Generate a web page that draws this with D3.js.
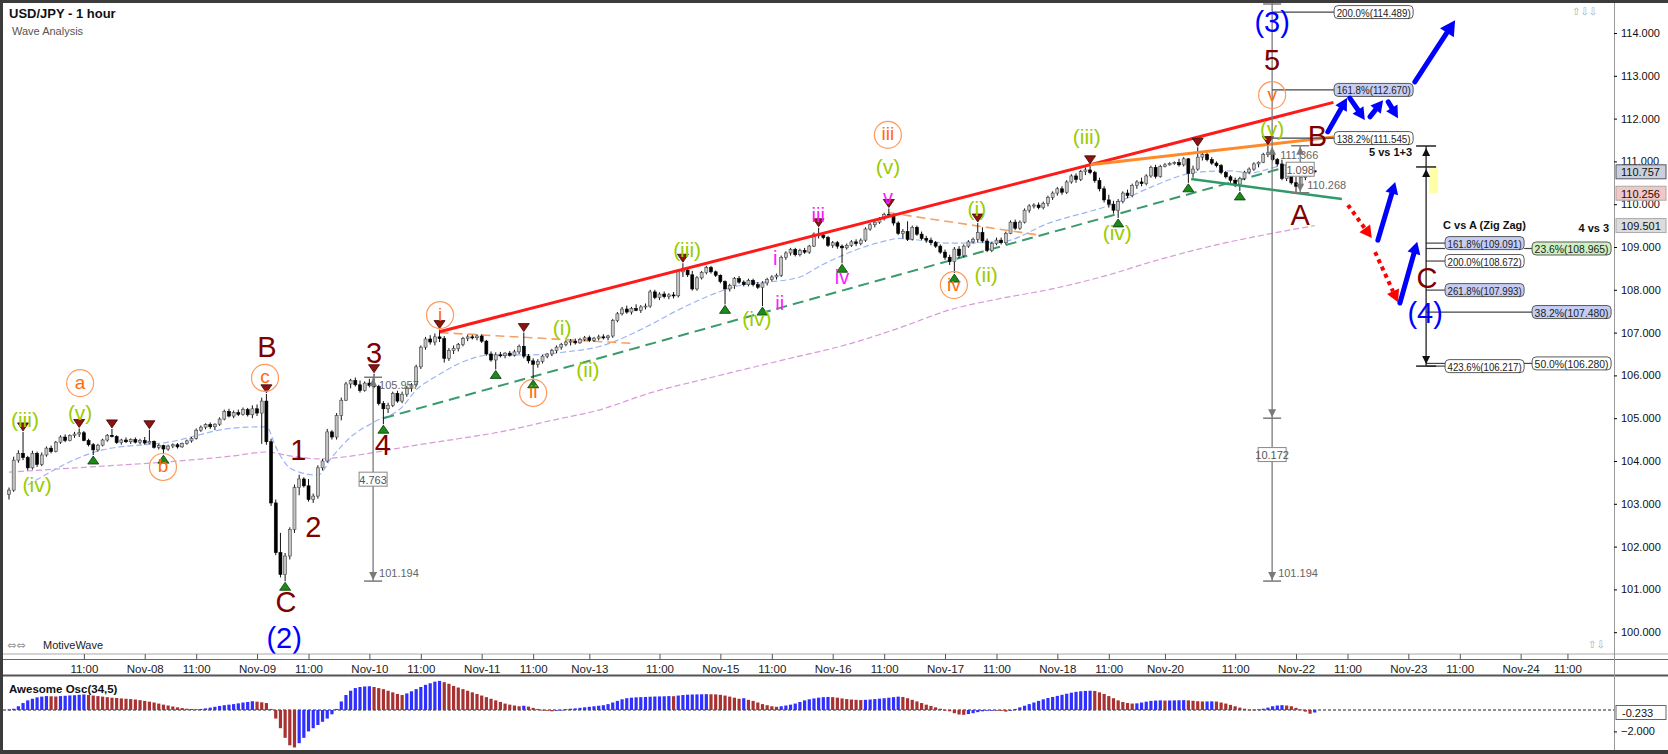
<!DOCTYPE html>
<html>
<head>
<meta charset="utf-8">
<script src="https://cdn.jsdelivr.net/npm/d3@7"></script>
<style>
  html, body { margin: 0; padding: 0; background: #fff; }
  svg { display: block; font-family: "Liberation Sans", Arial, sans-serif; }
</style>
</head>
<body>
<svg id="chart" width="1668" height="754"></svg>
<script>
// hourly USD/JPY candles, one row per bar: [open, high, low, close]
const candles = [
  [103.22,103.38,103.10,103.32],[103.32,104.10,103.28,104.02],[104.02,104.25,103.96,104.18],[104.18,104.68,104.02,104.08],[104.08,104.12,103.78,103.84],
  [103.84,104.24,103.80,104.18],[104.18,104.22,103.86,103.92],[103.92,104.20,103.88,104.14],[104.14,104.34,104.10,104.30],[104.30,104.36,104.18,104.22],
  // 10
  [104.22,104.47,104.20,104.44],[104.44,104.60,104.40,104.56],[104.56,104.62,104.44,104.48],[104.48,104.62,104.46,104.60],[104.60,104.68,104.54,104.63],
  [104.63,104.76,104.56,104.66],[104.66,104.70,104.46,104.48],[104.48,104.52,104.34,104.38],[104.38,104.42,104.14,104.26],[104.26,104.40,104.22,104.37],
  // 20
  [104.37,104.52,104.34,104.49],[104.49,104.63,104.45,104.60],[104.60,104.75,104.55,104.57],[104.57,104.60,104.40,104.43],[104.43,104.52,104.38,104.49],
  [104.49,104.55,104.42,104.45],[104.45,104.53,104.40,104.50],[104.50,104.55,104.41,104.44],[104.44,104.52,104.39,104.48],[104.48,104.56,104.38,104.42],
  // 30
  [104.42,104.73,104.40,104.46],[104.46,104.48,104.29,104.32],[104.32,104.40,104.27,104.36],[104.36,104.38,104.16,104.28],[104.28,104.38,104.24,104.35],
  [104.35,104.41,104.30,104.38],[104.38,104.42,104.29,104.33],[104.33,104.43,104.31,104.41],[104.41,104.50,104.38,104.47],[104.47,104.56,104.43,104.53],
  // 40
  [104.53,104.76,104.50,104.72],[104.72,104.83,104.68,104.79],[104.79,104.88,104.74,104.85],[104.85,104.90,104.75,104.80],[104.80,104.88,104.72,104.86],
  [104.86,105.02,104.82,104.98],[104.98,105.20,104.95,105.16],[105.16,105.22,105.02,105.05],[105.05,105.18,105.00,105.13],[105.13,105.20,105.05,105.09],
  // 50
  [105.09,105.25,105.06,105.20],[105.20,105.24,105.04,105.08],[105.08,105.30,105.00,105.22],[105.22,105.32,105.05,105.12],[105.12,105.48,104.40,105.40],
  [105.40,105.57,104.38,104.45],[104.45,104.52,102.95,103.02],[103.02,103.10,101.80,101.86],[101.86,102.32,101.28,101.35],[101.35,101.85,101.19,101.78],
  // 60
  [101.78,102.45,101.70,102.40],[102.40,103.45,102.32,103.38],[103.38,103.68,103.20,103.58],[103.58,103.62,103.38,103.42],[103.42,103.58,103.05,103.10],
  [103.10,103.24,103.02,103.18],[103.18,103.90,103.12,103.84],[103.84,104.05,103.78,104.00],[104.00,104.75,103.96,104.68],[104.68,104.72,104.50,104.56],
  // 70
  [104.56,105.12,104.50,105.06],[105.06,105.48,104.95,105.42],[105.42,105.85,105.40,105.80],[105.80,105.92,105.70,105.88],[105.88,105.95,105.74,105.78],
  [105.78,105.88,105.60,105.65],[105.65,105.86,105.62,105.82],[105.82,105.92,105.72,105.76],[105.76,106.04,105.70,105.74],[105.74,105.78,105.30,105.34],
  // 80
  [105.34,105.40,104.86,105.22],[105.22,105.36,105.12,105.30],[105.30,105.62,105.26,105.58],[105.58,105.64,105.36,105.40],[105.40,105.62,105.35,105.56],
  [105.56,105.75,105.50,105.70],[105.70,105.82,105.62,105.78],[105.78,106.25,105.74,106.20],[106.20,106.70,106.15,106.66],[106.66,106.90,106.60,106.85],
  // 90
  [106.85,106.94,106.72,106.78],[106.78,106.98,106.70,106.90],[106.90,107.07,106.78,106.86],[106.86,106.92,106.30,106.40],[106.40,106.64,106.34,106.58],
  [106.58,106.70,106.50,106.63],[106.63,106.76,106.56,106.72],[106.72,106.90,106.68,106.86],[106.86,106.95,106.80,106.90],[106.90,106.95,106.84,106.88],
  // 100
  [106.88,106.96,106.82,106.92],[106.92,106.96,106.76,106.80],[106.80,106.83,106.46,106.50],[106.50,106.56,106.32,106.36],[106.36,106.54,106.14,106.48],
  [106.48,106.55,106.42,106.46],[106.46,106.54,106.40,106.52],[106.52,106.57,106.44,106.47],[106.47,106.60,106.44,106.55],[106.55,106.72,106.50,106.68],
  // 110
  [106.68,107.00,106.40,106.45],[106.45,106.50,106.28,106.34],[106.34,106.40,105.92,106.26],[106.26,106.38,106.18,106.33],[106.33,106.48,106.28,106.45],
  [106.45,106.52,106.40,106.50],[106.50,106.62,106.45,106.58],[106.58,106.70,106.52,106.66],[106.66,106.76,106.60,106.72],[106.72,106.82,106.68,106.78],
  // 120
  [106.78,106.85,106.70,106.80],[106.80,106.86,106.72,106.76],[106.76,106.88,106.74,106.84],[106.84,106.92,106.80,106.88],[106.88,106.93,106.78,106.82],
  [106.82,106.90,106.78,106.87],[106.87,106.95,106.82,106.90],[106.90,106.96,106.84,106.88],[106.88,106.95,106.82,106.92],[106.92,107.32,106.88,107.28],
  // 130
  [107.28,107.48,107.24,107.44],[107.44,107.60,107.40,107.55],[107.55,107.63,107.44,107.48],[107.48,107.60,107.42,107.56],[107.56,107.66,107.50,107.52],
  [107.52,107.64,107.46,107.60],[107.60,107.68,107.54,107.62],[107.62,108.00,107.58,107.95],[107.95,108.00,107.78,107.82],[107.82,107.94,107.76,107.90],
  // 140
  [107.90,107.96,107.80,107.84],[107.84,107.92,107.78,107.88],[107.88,107.95,107.80,107.86],[107.86,108.46,107.82,108.42],[108.42,108.62,108.30,108.46],
  [108.46,108.52,108.30,108.35],[108.35,108.44,107.98,108.02],[108.02,108.32,107.98,108.28],[108.28,108.44,108.24,108.40],[108.40,108.56,108.36,108.52],
  // 150
  [108.52,108.56,108.38,108.42],[108.42,108.45,108.30,108.34],[108.34,108.36,108.15,108.19],[108.19,108.22,107.66,108.02],[108.02,108.14,107.96,108.10],
  [108.10,108.30,108.02,108.26],[108.26,108.32,108.14,108.18],[108.18,108.22,108.08,108.12],[108.12,108.26,108.08,108.22],[108.22,108.26,108.08,108.12],
  // 160
  [108.12,108.18,108.02,108.06],[108.06,108.20,107.62,108.16],[108.16,108.28,108.10,108.24],[108.24,108.34,108.20,108.30],[108.30,108.38,108.24,108.34],
  [108.34,108.80,108.30,108.76],[108.76,108.90,108.70,108.86],[108.86,108.98,108.80,108.94],[108.94,108.98,108.78,108.82],[108.82,108.96,108.78,108.92],
  // 170
  [108.92,108.98,108.84,108.88],[108.88,109.05,108.84,109.02],[109.02,109.34,109.00,109.30],[109.30,109.45,109.20,109.28],[109.28,109.32,109.18,109.22],
  [109.22,109.26,109.00,109.04],[109.04,109.14,108.98,109.10],[109.10,109.14,108.96,109.02],[109.02,109.06,108.62,108.98],[108.98,109.08,108.94,109.04],
  // 180
  [109.04,109.16,109.00,109.12],[109.12,109.18,109.02,109.08],[109.08,109.20,109.04,109.16],[109.16,109.46,109.12,109.42],[109.42,109.56,109.38,109.52],
  [109.52,109.62,109.46,109.58],[109.58,109.70,109.54,109.66],[109.66,109.80,109.62,109.76],[109.76,109.90,109.70,109.74],[109.74,109.78,109.50,109.56],
  // 190
  [109.56,109.60,109.28,109.32],[109.32,109.42,109.20,109.36],[109.36,109.60,109.14,109.18],[109.18,109.50,109.15,109.46],[109.46,109.50,109.26,109.30],
  [109.30,109.36,109.16,109.20],[109.20,109.26,109.10,109.16],[109.16,109.22,109.04,109.10],[109.10,109.14,108.98,109.02],[109.02,109.06,108.84,108.88],
  // 200
  [108.88,108.94,108.70,108.76],[108.76,108.82,108.58,108.66],[108.66,109.00,108.39,108.95],[108.95,109.02,108.74,108.80],[108.80,109.06,108.76,109.02],
  [109.02,109.16,108.98,109.12],[109.12,109.22,109.08,109.18],[109.18,109.56,109.10,109.34],[109.34,109.46,109.10,109.14],[109.14,109.20,108.88,108.92],
  // 210
  [108.92,109.12,108.88,109.08],[109.08,109.22,109.04,109.16],[109.16,109.22,109.06,109.10],[109.10,109.36,109.06,109.32],[109.32,109.62,109.30,109.58],
  [109.58,109.64,109.40,109.44],[109.44,109.62,109.40,109.58],[109.58,109.90,109.55,109.86],[109.86,110.00,109.80,109.96],[109.96,110.02,109.90,109.98],
  // 220
  [109.98,110.04,109.88,109.92],[109.92,110.06,109.88,110.02],[110.02,110.20,109.95,110.16],[110.16,110.30,110.10,110.26],[110.26,110.40,110.20,110.36],
  [110.36,110.42,110.22,110.28],[110.28,110.56,110.24,110.52],[110.52,110.70,110.48,110.66],[110.66,110.72,110.50,110.58],[110.58,110.80,110.54,110.76],
  // 230
  [110.76,110.86,110.68,110.80],[110.80,110.92,110.70,110.74],[110.74,110.78,110.50,110.55],[110.55,110.62,110.30,110.36],[110.36,110.42,110.04,110.10],
  [110.10,110.22,109.92,110.00],[110.00,110.08,109.78,109.86],[109.86,110.12,109.68,110.06],[110.06,110.30,110.02,110.26],[110.26,110.34,110.14,110.20],
  // 240
  [110.20,110.48,110.16,110.44],[110.44,110.56,110.36,110.52],[110.52,110.62,110.42,110.48],[110.48,110.70,110.44,110.66],[110.66,110.90,110.62,110.86],
  [110.86,110.92,110.60,110.65],[110.65,110.92,110.62,110.88],[110.88,110.96,110.86,110.92],[110.92,110.98,110.90,110.95],[110.95,111.00,110.92,110.97],
  // 250
  [110.97,111.06,110.88,110.92],[110.92,111.10,110.88,111.06],[111.06,111.08,110.50,110.72],[110.72,110.90,110.62,110.82],[110.82,111.33,110.78,111.10],
  [111.10,111.20,111.02,111.16],[111.16,111.20,111.00,111.04],[111.04,111.10,110.92,110.96],[110.96,111.00,110.86,110.90],[110.90,110.94,110.70,110.74],
  // 260
  [110.74,110.78,110.60,110.64],[110.64,110.68,110.50,110.56],[110.56,110.62,110.40,110.47],[110.47,110.64,110.31,110.60],[110.60,110.78,110.56,110.75],
  [110.75,110.86,110.70,110.82],[110.82,110.98,110.78,110.94],[110.94,111.00,110.86,110.98],[110.98,111.20,110.96,111.16],[111.16,111.37,111.10,111.20],
  // 270
  [111.20,111.26,111.00,111.04],[111.04,111.08,110.88,110.94],[110.94,111.04,110.56,110.60],[110.60,110.98,110.54,110.92],[110.92,110.94,110.46,110.50],
  [110.50,110.64,110.27,110.42],[110.42,110.66,110.38,110.62],[110.62,110.74,110.56,110.70],[110.70,110.82,110.64,110.78],[110.78,110.80,110.72,110.757]
];

// Awesome Oscillator (34,5), one value per bar
const awesomeOsc = [
  0.05,0.12,0.35,0.65,0.9,1.05,1.18,1.25,1.3,1.28,
  1.26,1.3,1.33,1.36,1.38,1.42,1.45,1.4,1.35,1.3,
  1.25,1.2,1.15,1.12,1.08,1.05,1.02,0.98,0.92,0.85,
  0.78,0.7,0.6,0.5,0.42,0.33,0.25,0.18,0.12,0.1,
  0.08,0.1,0.15,0.22,0.3,0.38,0.45,0.5,0.55,0.62,
  0.7,0.75,0.82,0.78,0.72,0.65,0.1,-0.8,-1.7,-2.6,
  -3.3,-3.5,-3.1,-2.6,-2.0,-1.7,-1.4,-1.1,-0.8,-0.4,
  0.1,0.8,1.4,1.8,2.05,2.15,2.2,2.22,2.15,2.05,
  1.95,1.8,1.65,1.5,1.4,1.55,1.75,1.95,2.15,2.35,
  2.5,2.65,2.72,2.6,2.45,2.25,2.1,1.95,1.8,1.65,
  1.5,1.35,1.2,1.05,0.9,0.75,0.6,0.5,0.42,0.35,
  0.4,0.32,0.2,0.1,0.02,-0.05,-0.12,-0.05,0.02,0.08,
  0.12,0.15,0.2,0.25,0.3,0.35,0.4,0.45,0.55,0.7,
  0.85,1.0,1.1,1.15,1.18,1.2,1.22,1.24,1.26,1.27,
  1.28,1.3,1.29,1.35,1.4,1.43,1.45,1.46,1.47,1.48,
  1.47,1.46,1.42,1.35,1.25,1.15,1.05,1.1,0.95,0.85,
  0.7,0.55,0.45,0.35,0.3,0.35,0.42,0.5,0.6,0.75,
  0.9,1.0,1.08,1.15,1.2,1.22,1.2,1.15,1.08,1.02,
  0.98,0.95,0.93,0.95,0.98,1.02,1.06,1.1,1.15,1.2,
  1.25,1.22,1.1,0.95,0.8,0.65,0.5,0.38,0.25,0.12,
  0.02,-0.12,-0.3,-0.42,-0.45,-0.38,-0.3,-0.2,-0.12,-0.05,
  0.0,-0.02,-0.08,-0.15,-0.05,0.1,0.25,0.4,0.55,0.7,
  0.85,1.0,1.12,1.22,1.32,1.42,1.52,1.62,1.7,1.75,
  1.78,1.8,1.78,1.65,1.5,1.3,1.1,0.9,0.75,0.65,
  0.6,0.62,0.7,0.78,0.85,0.88,0.9,0.88,0.89,0.9,
  0.91,0.92,0.9,0.86,0.82,0.8,0.8,0.81,0.79,0.7,
  0.6,0.48,0.35,0.22,0.12,0.05,0.04,0.06,0.12,0.22,
  0.35,0.42,0.45,0.42,0.35,0.2,0.05,-0.15,-0.35,-0.233
];

// moving averages: [bar, price]
const fastMA = [[4,103.44],[20,104.26],[34,104.44],[48,104.77],[55,104.8],[57,104.33],[59,103.95],[62,103.74],[66,103.67],
  [69,104.09],[73,104.56],[78,104.91],[84,105.26],[87,105.66],[91,105.96],[98,106.36],[103,106.48],[112,106.48],[119,106.55],
  [126,106.67],[137,107.18],[143,107.53],[155,108.07],[169,108.3],[173,108.54],[188,109.16],[190,109.2],[201,109.09],
  [212,109.12],[222,109.55],[237,110.05],[244,110.4],[254,110.75],[261,110.78],[265,110.73],[272,110.9],[279,110.95]];
const slowMA = [[0,103.74],[20,103.88],[34,103.98],[48,104.12],[55,104.21],[60,104.12],[66,104.05],[72,104.1],[78,104.2],
  [87,104.37],[96,104.52],[105,104.68],[116,104.95],[126,105.19],[137,105.59],[150,105.95],[165,106.35],[180,106.75],
  [190,107.1],[201,107.53],[212,107.8],[222,108.0],[235,108.35],[244,108.65],[258,109.05],[269,109.3],[279,109.5]];

// swing markers (bar indices)
const swingHighs = [3, 15, 22, 30, 55, 78, 92, 110, 144, 173, 188, 207, 231, 254, 269];
const swingLows = [18, 33, 59, 80, 104, 112, 153, 161, 178, 202, 237, 252, 263];

// wave labels by degree: [bar, price, text]
const intermediateWaves = [[58.8, 99.86, "(2)"], [269.9, 114.26, "(3)"], [302.6, 107.46, "(4)"]];
const minorWaves = [[55.1, 106.66, "B"], [59.2, 100.71, "C"], [61.8, 104.26, "1"], [65, 102.46, "2"], [78, 106.52, "3"],
  [79.9, 104.37, "4"], [269.9, 113.37, "5"], [279.6, 111.6, "B"], [275.9, 109.75, "A"], [303, 108.28, "C"]];
const minuteWaves = [[15.2, 105.82, "a"], [32.9, 103.86, "b"], [54.7, 105.94, "c"], [92.1, 107.41, "i"], [112, 105.59, "ii"],
  [187.8, 111.62, "iii"], [201.9, 108.11, "iv"], [269.9, 112.55, "v"]];
const minuetteWaves = [[3.4, 104.96, "(iii)"], [6, 103.44, "(iv)"], [15.2, 105.14, "(v)"], [118.2, 107.11, "(i)"],
  [123.7, 106.13, "(ii)"], [144.9, 108.93, "(iii)"], [159.8, 107.34, "(iv)"], [187.8, 110.87, "(v)"], [206.8, 109.91, "(i)"],
  [208.8, 108.35, "(ii)"], [230.3, 111.59, "(iii)"], [236.8, 109.35, "(iv)"], [269.9, 111.78, "(v)"]];
const subminuetteWaves = [[163.7, 108.74, "i"], [164.7, 107.69, "ii"], [172.9, 109.75, "iii"], [178, 108.3, "iv"], [187.8, 110.17, "v"]];

// trend lines: [[bar, price], [bar, price]]
const channelTop = [[92, 107.02], [283, 112.38]];
const wedgeTop = [[231, 110.92], [283, 111.57]];
const supportLine = [[252.6, 110.59], [284.8, 110.12]];
const channelBase = [[80, 105.0], [272, 110.84]];
const waveTwoLine = [[92, 107.0], [133, 106.75]];
const waveFourLine = [[188, 109.8], [220, 109.28]];

// projected path
const bullishPath = [
  [[281.8, 111.69], [285.9, 112.48]], [[286.5, 112.48], [289.7, 111.97]], [[290.8, 112.04], [293.6, 112.43]],
  [[294.7, 112.39], [296.8, 112.01]], [[292.5, 109.16], [296.2, 110.52]], [[297.2, 107.69], [300.9, 109.12]]
];
const bigBullArrow = [[300.4, 112.86], [309, 114.3]];
const bearishPath = [[[286.1, 109.98], [291.2, 109.21]], [[291.9, 108.88], [296.8, 107.71]]];

// measurements
const measureWave3 = { bar: 77.8, top: 105.957, bottom: 101.194 };
const measureWave5 = { bar: 269.9, top: 111.366, bottom: 101.194, mid: 105.0, box: 104.15 };
const measureLast = { bar: 275.9, top: 111.366, bottom: 110.268 };
const measure5vs13 = { bar: 302.8, top: 111.36, second: 110.87, bottom: 106.217, zone: [110.87, 110.26] };

// fibonacci levels: [ratio, price]
const fibWave5 = [[200.0, 114.489], [161.8, 112.670], [138.2, 111.545]];
const fibZigZag = [[161.8, 109.091], [200.0, 108.672], [261.8, 107.993], [423.6, 106.217]];
const fibWave4 = [[23.6, 108.965], [38.2, 107.480], [50.0, 106.280]];

// axes
const timeTickBars = [16, 29, 40, 53, 64, 77, 88, 101, 112, 124, 139, 152, 163, 176, 187, 200, 211, 224, 235, 247, 262, 275, 286, 299, 310, 323, 333];
const timeTickLabels = ["11:00", "Nov-08", "11:00", "Nov-09", "11:00", "Nov-10", "11:00", "Nov-11", "11:00", "Nov-13", "11:00", "Nov-15", "11:00",
  "Nov-16", "11:00", "Nov-17", "11:00", "Nov-18", "11:00", "Nov-20", "11:00", "Nov-22", "11:00", "Nov-23", "11:00", "Nov-24", "11:00"];
const priceTicks = [100, 101, 102, 103, 104, 105, 106, 107, 108, 109, 110, 111, 112, 113, 114];
const priceTags = [[110.757, "last"], [110.256, "fast"], [109.501, "slow"]];
const oscTicks = [-2];

(() => {
  const W = 1668, H = 754;
  const plotRight = 1614;
  const svg = d3.select("#chart");

  const x = d3.scaleLinear().domain([0, 100]).range([9, 477]);
  const y = d3.scaleLinear().domain([114, 100]).range([33, 632.2]);
  const yo = d3.scaleLinear().domain([0, -2]).range([710, 731.4]);

  svg.append("rect").attr("width", W).attr("height", H).attr("fill", "#fff");

  const defs = svg.append("defs");
  defs.append("clipPath").attr("id", "pclip").append("rect")
    .attr("x", 3).attr("y", 3).attr("width", plotRight - 3).attr("height", 651);
  defs.append("clipPath").attr("id", "oclip").append("rect")
    .attr("x", 3).attr("y", 677).attr("width", plotRight - 3).attr("height", 73);

  const main = svg.append("g").attr("clip-path", "url(#pclip)");

  // moving averages
  const maLine = d3.line().x(d => x(d[0])).y(d => y(d[1])).curve(d3.curveMonotoneX);
  main.append("path").attr("d", maLine(slowMA)).attr("fill", "none")
    .attr("stroke", "#d89ad8").attr("stroke-width", 1.2).attr("stroke-dasharray", "6,3");
  main.append("path").attr("d", maLine(fastMA)).attr("fill", "none")
    .attr("stroke", "#9cb6f2").attr("stroke-width", 1.2).attr("stroke-dasharray", "6,3");

  // trend lines
  const seg = (g, pts, color, w, dash) => g.append("line")
    .attr("x1", x(pts[0][0])).attr("y1", y(pts[0][1]))
    .attr("x2", x(pts[1][0])).attr("y2", y(pts[1][1]))
    .attr("stroke", color).attr("stroke-width", w)
    .attr("stroke-dasharray", dash || null);
  seg(main, channelBase, "#3a9a6c", 2, "11,6");
  seg(main, waveTwoLine, "#f5a064", 1.6, "9,5");
  seg(main, waveFourLine, "#f5a064", 1.6, "9,5");

  // candles
  const cw = 3;
  main.append("g").selectAll("line").data(candles).join("line")
    .attr("x1", (d, i) => x(i)).attr("x2", (d, i) => x(i))
    .attr("y1", d => y(d[1])).attr("y2", d => y(d[2]))
    .attr("stroke", "#111").attr("stroke-width", 1);
  main.append("g").selectAll("rect").data(candles).join("rect")
    .attr("x", (d, i) => x(i) - cw / 2)
    .attr("y", d => y(Math.max(d[0], d[3])))
    .attr("width", cw)
    .attr("height", d => Math.max(1, Math.abs(y(d[0]) - y(d[3]))))
    .attr("fill", d => d[3] >= d[0] ? "#c4c4c4" : "#000")
    .attr("stroke", d => d[3] >= d[0] ? "#444" : "#000")
    .attr("stroke-width", 0.6);

  seg(main, channelTop, "#ff1a1a", 3);
  seg(main, wedgeTop, "#ff8a2a", 3);
  seg(main, supportLine, "#2f9a68", 2.5);

  // swing markers
  main.append("g").selectAll("path").data(swingHighs).join("path")
    .attr("d", i => { const cx = x(i), cy = y(candles[i][1]) - 1; return `M${cx},${cy} l-5.5,-8 h11 z`; })
    .attr("fill", "#8e1212").attr("stroke", "#3a0606").attr("stroke-width", 0.8);
  main.append("g").selectAll("path").data(swingLows).join("path")
    .attr("d", i => { const cx = x(i), cy = y(candles[i][2]) + 1; return `M${cx},${cy} l-5.5,8 h11 z`; })
    .attr("fill", "#1b8a1b").attr("stroke", "#063a06").attr("stroke-width", 0.8);

  // measurement tools
  const gray = "#7a7a7a";
  const tools = main.append("g");
  const cap = (cx, cy) => tools.append("line").attr("x1", cx - 9).attr("x2", cx + 9).attr("y1", cy).attr("y2", cy)
    .attr("stroke", gray).attr("stroke-width", 1.5);
  const tip = (cx, cy, dir, color) => tools.append("path")
    .attr("d", `M${cx},${cy} l-4,${-dir * 8} h8 z`).attr("fill", color || gray);
  const vline = (cx, y1, y2, color) => tools.append("line").attr("x1", cx).attr("x2", cx).attr("y1", y1).attr("y2", y2)
    .attr("stroke", color || gray).attr("stroke-width", 1.3);
  const note = (tx, ty, t) => tools.append("text").attr("x", tx).attr("y", ty).attr("font-size", 11)
    .attr("fill", "#666").attr("dominant-baseline", "central").text(t);
  const valueBox = (cx, cy, t) => {
    tools.append("rect").attr("x", cx - 14).attr("y", cy - 7).attr("width", 28).attr("height", 14)
      .attr("fill", "#fff").attr("stroke", "#888");
    tools.append("text").attr("x", cx).attr("y", cy + 0.5).attr("text-anchor", "middle").attr("dominant-baseline", "central")
      .attr("font-size", 11).attr("fill", "#555").text(t);
  };

  {
    const m = measureWave3, cx = x(m.bar);
    vline(cx, y(m.top), y(m.bottom));
    cap(cx, y(m.top)); tip(cx, y(m.top) + 1, -1);
    cap(cx, y(m.bottom)); tip(cx, y(m.bottom) - 1, 1);
    note(cx + 6, y(m.top) + 8, m.top.toFixed(3));
    note(cx + 6, y(m.bottom) - 8, m.bottom.toFixed(3));
    valueBox(cx, (y(m.top) + y(m.bottom)) / 2, (m.top - m.bottom).toFixed(3));
  }
  {
    const m = measureWave5, cx = x(m.bar);
    vline(cx, 3, y(m.bottom));
    cap(cx, 4);
    tip(cx, y(m.top) + 1, -1);
    cap(cx, y(m.mid)); tip(cx, y(m.mid) - 1, 1);
    cap(cx, y(m.bottom)); tip(cx, y(m.bottom) - 1, 1);
    note(cx + 8, y(m.top) + 9, m.top.toFixed(3));
    note(cx + 6, y(m.bottom) - 8, m.bottom.toFixed(3));
    valueBox(cx, y(m.box), (m.top - m.bottom).toFixed(3));
  }
  {
    // shares its top value label with the wave-5 measure
    const m = measureLast, cx = x(m.bar);
    vline(cx, y(m.top), y(m.bottom));
    cap(cx, y(m.top)); tip(cx, y(m.top) + 1, -1);
    cap(cx, y(m.bottom)); tip(cx, y(m.bottom) - 1, 1);
    note(cx + 7, y(m.bottom) - 8, m.bottom.toFixed(3));
    valueBox(cx, (y(m.top) + y(m.bottom)) / 2, (m.top - m.bottom).toFixed(3));
  }

  // fib boxes
  const boxFill = { 161.8: "#c6cdf3", 261.8: "#c6cdf3", 38.2: "#c6cdf3", 23.6: "#cdf0c2" };
  const fibBox = (bx, cy, r, p) => {
    tools.append("rect").attr("x", bx).attr("y", cy - 6.5).attr("width", 79).attr("height", 13).attr("rx", 4)
      .attr("fill", boxFill[r] || "#fff").attr("stroke", "#5a5a5a").attr("stroke-width", 1);
    tools.append("text").attr("x", bx + 39.5).attr("y", cy + 0.5).attr("text-anchor", "middle")
      .attr("dominant-baseline", "central").attr("font-size", 10.5).attr("fill", "#222")
      .attr("textLength", 74).attr("lengthAdjust", "spacingAndGlyphs")
      .text(`${r.toFixed(1)}%(${p.toFixed(3)})`);
  };
  const hline = (x1, x2, yy) => tools.append("line").attr("x1", x1).attr("x2", x2).attr("y1", yy).attr("y2", yy)
    .attr("stroke", "#444").attr("stroke-width", 1.2);

  {
    const ax = x(measureWave5.bar), bx = ax + 62;
    fibWave5.forEach(([r, p]) => { hline(ax, bx, y(p)); fibBox(bx, y(p), r, p); });
  }
  {
    const m = measure5vs13, cx = x(m.bar);
    const c1 = cx + 19, c2 = cx + 106;
    tools.append("rect").attr("x", cx + 3).attr("y", y(m.zone[0])).attr("width", 9)
      .attr("height", y(m.zone[1]) - y(m.zone[0])).attr("fill", "#ffffa8");
    fibZigZag.forEach(([r, p]) => { hline(cx, c1, y(p)); fibBox(c1, y(p), r, p); });
    fibWave4.forEach(([r, p]) => {
      hline(r === 38.2 ? cx : c1 + 79, c2, y(p));
      if (r !== 38.2) hline(cx, c1, y(p));
      fibBox(c2, y(p), r, p);
    });
    vline(cx, y(m.top), y(m.bottom), "#222");
    [m.top, m.second, m.bottom].forEach(v => tools.append("line")
      .attr("x1", cx - 10).attr("x2", cx + 10).attr("y1", y(v)).attr("y2", y(v))
      .attr("stroke", "#222").attr("stroke-width", 1.5));
    tip(cx, y(m.top) + 2, -1, "#111");
    tip(cx, y(m.second) + 2, -1, "#111");
    tip(cx, y(m.bottom) - 2, 1, "#111");
    tools.append("text").attr("x", cx - 14).attr("y", y(m.top) + 10).attr("text-anchor", "end")
      .attr("font-size", 11).attr("font-weight", "bold").attr("fill", "#111").text("5 vs 1+3");
    tools.append("text").attr("x", c1 - 2).attr("y", y(fibZigZag[0][1]) - 14).attr("font-size", 11)
      .attr("font-weight", "bold").attr("fill", "#111").text("C vs A (Zig Zag)");
    tools.append("text").attr("x", c2 + 77).attr("y", y(fibWave4[0][1]) - 16).attr("text-anchor", "end")
      .attr("font-size", 11).attr("font-weight", "bold").attr("fill", "#111").text("4 vs 3");
  }

  // projected arrows
  const arrow = (pts, color, w, head, dash) => {
    const X0 = x(pts[0][0]), Y0 = y(pts[0][1]), X1 = x(pts[1][0]), Y1 = y(pts[1][1]);
    const a = Math.atan2(Y1 - Y0, X1 - X0);
    const bx = X1 - head * Math.cos(a), by = Y1 - head * Math.sin(a);
    const hw = head * 0.55;
    tools.append("line").attr("x1", X0).attr("y1", Y0).attr("x2", bx).attr("y2", by)
      .attr("stroke", color).attr("stroke-width", w).attr("stroke-dasharray", dash || null)
      .attr("stroke-linecap", dash ? "butt" : "round");
    tools.append("path")
      .attr("d", `M${X1},${Y1} L${bx + hw * Math.sin(a)},${by - hw * Math.cos(a)} L${bx - hw * Math.sin(a)},${by + hw * Math.cos(a)} Z`)
      .attr("fill", color);
  };
  bullishPath.forEach(p => arrow(p, "#0000ff", 5, 12));
  arrow(bigBullArrow, "#0000ff", 5, 15);
  bearishPath.forEach(p => arrow(p, "#ff0000", 4, 12, "4,4"));

  // wave labels
  const labels = main.append("g").attr("text-anchor", "middle").attr("dominant-baseline", "central");
  const waveText = (data, color, size) => labels.append("g").selectAll("text").data(data).join("text")
    .attr("x", d => x(d[0])).attr("y", d => y(d[1]))
    .attr("font-size", size).attr("fill", color).text(d => d[2]);
  labels.append("g").selectAll("circle").data(minuteWaves).join("circle")
    .attr("cx", d => x(d[0])).attr("cy", d => y(d[1])).attr("r", 13.5)
    .attr("fill", "none").attr("stroke", "#ff9a5c").attr("stroke-width", 1.2);
  waveText(minuteWaves, "#ff6a10", 19).attr("dy", -1);
  waveText(minuetteWaves, "#99cc00", 21);
  waveText(subminuetteWaves, "#ff19ff", 20);
  waveText(minorWaves, "#800000", 29);
  waveText(intermediateWaves, "#0000ff", 29);

  // oscillator
  const osc = svg.append("g").attr("clip-path", "url(#oclip)");
  osc.append("line").attr("x1", 3).attr("x2", plotRight).attr("y1", yo(0)).attr("y2", yo(0))
    .attr("stroke", "#222").attr("stroke-width", 1).attr("stroke-dasharray", "3,2");
  osc.append("g").selectAll("rect").data(awesomeOsc).join("rect")
    .attr("x", (d, i) => x(i) - 1.6)
    .attr("y", d => Math.min(yo(d), yo(0)))
    .attr("width", 3.2)
    .attr("height", d => Math.max(0.8, Math.abs(yo(d) - yo(0))))
    .attr("fill", (d, i) => i > 0 && d < awesomeOsc[i - 1] ? "#a83232" : "#2f2fff");

  // frame, axes
  svg.append("line").attr("x1", 3).attr("x2", W).attr("y1", 654).attr("y2", 654).attr("stroke", "#aaa");
  svg.append("line").attr("x1", 3).attr("x2", W).attr("y1", 659.5).attr("y2", 659.5).attr("stroke", "#666");
  svg.append("line").attr("x1", 3).attr("x2", W).attr("y1", 675.5).attr("y2", 675.5).attr("stroke", "#555").attr("stroke-width", 2);
  svg.append("line").attr("x1", plotRight + 0.5).attr("x2", plotRight + 0.5).attr("y1", 3).attr("y2", 750).attr("stroke", "#999");
  svg.append("rect").attr("x", 0).attr("y", 0).attr("width", W).attr("height", 3).attr("fill", "#3c3c3c");
  svg.append("rect").attr("x", 0).attr("y", 0).attr("width", 3).attr("height", H).attr("fill", "#3c3c3c");
  svg.append("rect").attr("x", 0).attr("y", 750).attr("width", W).attr("height", 4).attr("fill", "#3c3c3c");

  const xAxis = svg.append("g").attr("transform", "translate(0,654)")
    .call(d3.axisBottom(x).tickValues(timeTickBars).tickSize(5).tickPadding(6)
      .tickFormat((d, i) => timeTickLabels[i]));
  xAxis.select(".domain").remove();
  xAxis.selectAll("line").attr("stroke", "#555");
  xAxis.selectAll("text").attr("font-size", 11.5).attr("fill", "#222")
    .attr("font-family", "'Liberation Sans', Arial, sans-serif");

  const yAxis = svg.append("g").attr("transform", `translate(${plotRight},0)`)
    .call(d3.axisRight(y).tickValues(priceTicks).tickSize(3).tickPadding(4).tickFormat(d3.format(".3f")));
  yAxis.select(".domain").remove();
  yAxis.selectAll("text").attr("font-size", 11).attr("fill", "#111")
    .attr("font-family", "'Liberation Sans', Arial, sans-serif");

  const tagFill = { last: "#c9d0dc", fast: "#f4c6c6", slow: "#dcdcdc" };
  priceTags.forEach(([p, k]) => {
    svg.append("rect").attr("x", plotRight + 2).attr("y", y(p) - 7).attr("width", 50).attr("height", 14)
      .attr("fill", tagFill[k]).attr("stroke", k === "last" ? "#556" : "#aaa");
    svg.append("text").attr("x", plotRight + 7).attr("y", y(p) + 0.5).attr("dominant-baseline", "central")
      .attr("font-size", 11).attr("fill", "#111").text(p.toFixed(3));
  });

  const oAxis = svg.append("g").attr("transform", `translate(${plotRight},0)`)
    .call(d3.axisRight(yo).tickValues(oscTicks).tickSize(3).tickPadding(4).tickFormat(d3.format(".3f")));
  oAxis.select(".domain").remove();
  oAxis.selectAll("text").attr("font-size", 11).attr("fill", "#111")
    .attr("font-family", "'Liberation Sans', Arial, sans-serif");
  const lastOsc = awesomeOsc[awesomeOsc.length - 1];
  svg.append("rect").attr("x", plotRight + 2).attr("y", yo(lastOsc) - 7).attr("width", 50).attr("height", 14)
    .attr("fill", "#fff").attr("stroke", "#666");
  svg.append("text").attr("x", plotRight + 8).attr("y", yo(lastOsc) + 0.5).attr("dominant-baseline", "central")
    .attr("font-size", 11).attr("fill", "#111").text(lastOsc.toFixed(3));

  // titles
  svg.append("text").attr("x", 9).attr("y", 18).attr("font-size", 13).attr("font-weight", "bold")
    .attr("fill", "#111").text("USD/JPY - 1 hour");
  svg.append("text").attr("x", 12).attr("y", 35).attr("font-size", 11).attr("fill", "#555").text("Wave Analysis");
  svg.append("text").attr("x", 9).attr("y", 693).attr("font-size", 11.5).attr("font-weight", "bold")
    .attr("fill", "#111").text("Awesome Osc(34,5)");
  svg.append("text").attr("x", 7).attr("y", 649).attr("font-size", 11).attr("fill", "#999")
    .attr("font-family", "'DejaVu Sans', sans-serif").text("\u21D4\u21D4");
  svg.append("text").attr("x", 43).attr("y", 649).attr("font-size", 11).attr("fill", "#222").text("MotiveWave");
  svg.append("text").attr("x", 1572).attr("y", 15).attr("font-size", 10).attr("fill", "#aaa")
    .attr("font-family", "'DejaVu Sans', sans-serif").text("\u21E7\u21E9\u21E9");
  svg.append("text").attr("x", 1588).attr("y", 648).attr("font-size", 10).attr("fill", "#aaa")
    .attr("font-family", "'DejaVu Sans', sans-serif").text("\u21E7\u21E9");
})();
</script>
</body>
</html>
